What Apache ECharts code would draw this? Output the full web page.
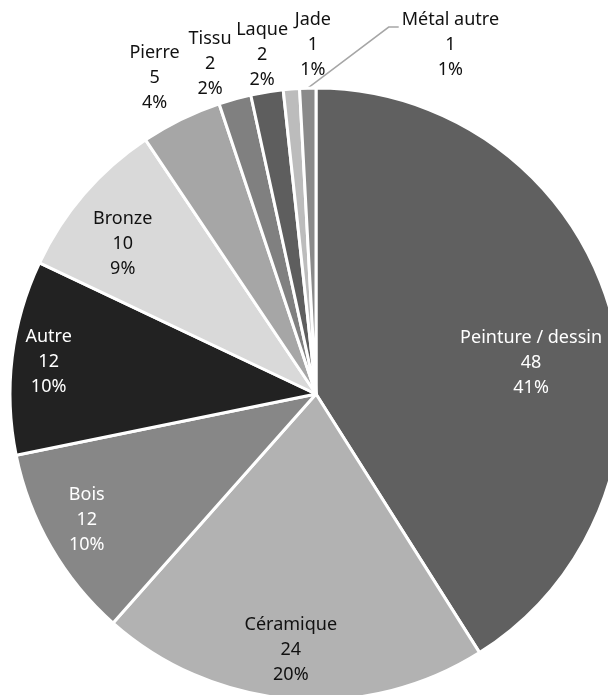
<!DOCTYPE html>
<html>
<head>
<meta charset="utf-8">
<script src="https://cdn.jsdelivr.net/npm/echarts@6/dist/echarts.min.js"></script>
<style>
  html, body { margin: 0; padding: 0; background: #fff; }
  #chart { width: 608px; height: 695px; }
</style>
</head>
<body>
<div id="chart"></div>
<script>
const categories = ['Peinture / dessin', 'Céramique', 'Bois', 'Autre', 'Bronze', 'Pierre', 'Tissu', 'Laque', 'Jade', 'Métal autre'];
const counts = [48, 24, 12, 12, 10, 5, 2, 2, 1, 1];
const sliceColors = ['#606060', '#b2b2b2', '#878787', '#222222', '#d9d9d9', '#a6a6a6', '#808080', '#5e5e5e', '#bcbcbc', '#8a8a8a'];

const insideNames = ['Peinture / dessin', 'Céramique', 'Bois', 'Autre', 'Bronze'];
const whiteTextNames = ['Peinture / dessin', 'Bois', 'Autre'];

const CX = 316, CY = 394, R = 306;

// where each label sits: radius factor and angle shift (deg) from the slice middle
const labelSpots = {
  'Peinture / dessin': [0.71, 8.0],
  'Céramique': [0.84, 1.0],
  'Bois': [0.855, 1.2],
  'Autre': [0.88, -0.1],
  'Bronze': [0.80, -2.9],
  'Pierre': [1.16, -0.9],
  'Tissu': [1.133, -2.4],
  'Laque': [1.122, 0.2],
  'Jade': [1.14, 4.1],
  'Métal autre': [1.222, 22.6]
};

const total = counts.reduce((a, b) => a + b, 0);
function midAngle(i) {
  let before = 0;
  for (let k = 0; k < i; k++) before += counts[k];
  return (-90 + (before + counts[i] / 2) / total * 360) * Math.PI / 180;
}

const chart = echarts.init(document.getElementById('chart'));

const pieData = categories.map((name, i) => {
  const inside = insideNames.indexOf(name) >= 0;
  return {
    name: name,
    value: counts[i],
    itemStyle: { color: sliceColors[i] },
    label: {
      position: inside ? 'inside' : 'outside',
      color: whiteTextNames.indexOf(name) >= 0 ? '#ffffff' : '#111111'
    },
    labelLine: { show: name === 'Métal autre' }
  };
});

chart.setOption({
  animation: false,
  series: [
    {
      type: 'pie',
      center: [CX, CY],
      radius: [0, R],
      startAngle: 90,
      clockwise: true,
      percentPrecision: 0,
      avoidLabelOverlap: false,
      data: pieData,
      itemStyle: {
        borderColor: '#ffffff',
        borderWidth: 3
      },
      label: {
        formatter: '{b}\n{c}\n{d}%',
        fontFamily: 'Noto Sans',
        fontSize: 18,
        lineHeight: 25,
        align: 'center'
      },
      labelLine: {
        length: 10,
        length2: 10,
        lineStyle: { color: '#a6a6a6', width: 1.5 }
      },
      emphasis: { disabled: true },
      labelLayout: function (params) {
        const i = params.dataIndex;
        const spot = labelSpots[categories[i]];
        const mid = midAngle(i);
        const a = mid + spot[1] * Math.PI / 180;
        const x = CX + spot[0] * R * Math.cos(a);
        const y = CY + spot[0] * R * Math.sin(a);
        const out = { x: x, y: y, align: 'center', verticalAlign: 'middle' };
        if (categories[i] === 'Métal autre') {
          const half = params.labelRect.width / 2;
          const ex = x - half - 3, ey = y - 18;
          out.labelLinePoints = [
            [CX + R * Math.cos(mid), CY + R * Math.sin(mid)],
            [ex - 10, ey],
            [ex, ey]
          ];
        }
        return out;
      }
    }
  ]
});
</script>
</body>
</html>
